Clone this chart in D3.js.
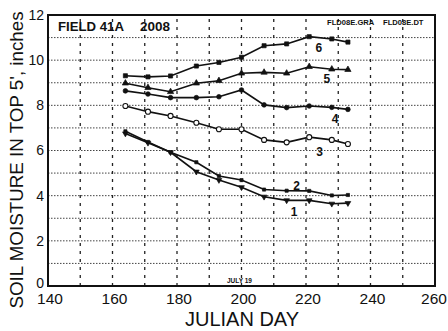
<!DOCTYPE html>
<html>
<head>
<meta charset="utf-8">
<script src="https://cdn.jsdelivr.net/npm/d3@7"></script>
<style>
  body { margin: 0; background: #fff; }
  svg { display: block; font-family: "Liberation Sans", Arial, sans-serif; }
</style>
</head>
<body>
<div id="chart"></div>
<script>
// julian days of the readings
const days = [164, 171, 178, 186, 193, 200, 207, 214, 221, 228, 233];

// soil moisture in top 5', inches
const tube1 = [6.75, 6.34, 5.92, 5.06, 4.69, 4.37, 3.95, 3.79, 3.79, 3.64, 3.67];
const tube2 = [6.85, 6.38, 5.92, 5.48, 4.87, 4.69, 4.27, 4.22, 4.21, 4.01, 4.03];
const tube3 = [7.97, 7.72, 7.53, 7.23, 6.94, 6.94, 6.47, 6.36, 6.59, 6.47, 6.29];
const tube4 = [8.64, 8.50, 8.34, 8.34, 8.38, 8.68, 8.02, 7.90, 7.97, 7.91, 7.82];
const tube5 = [8.98, 8.78, 8.60, 8.98, 9.09, 9.42, 9.46, 9.42, 9.71, 9.60, 9.58];
const tube6 = [9.31, 9.26, 9.30, 9.74, 9.90, 10.13, 10.64, 10.72, 11.04, 10.94, 10.80];

const seriesNames = ["1", "2", "3", "4", "5", "6"];
// where the curve numbers sit, [day, inches]
const labelPos = [[216.3, 3.29], [217.1, 4.44], [224.2, 5.95], [229, 7.4], [226.5, 9.17], [224, 10.55]];

const xTicks = [140, 160, 180, 200, 220, 240, 260];
const yTicks = [0, 2, 4, 6, 8, 10, 12];
const xGrid = [150, 160, 170, 180, 190, 200, 210, 220, 230, 240, 250];
const yGrid = [1, 2, 3, 4, 5, 6, 7, 8, 9, 10, 11];

const width = 448, height = 331;

const x = d3.scaleLinear().domain([140, 260]).range([48, 435]);
const y = d3.scaleLinear().domain([0, 12]).range([286, 15]);

const svg = d3.select("#chart").append("svg")
  .attr("width", width)
  .attr("height", height);

// grid
svg.append("g")
  .selectAll("line")
  .data(yGrid)
  .join("line")
  .attr("x1", x(140)).attr("x2", x(260))
  .attr("y1", d => y(d)).attr("y2", d => y(d))
  .attr("stroke", "#444")
  .attr("stroke-width", 1)
  .attr("stroke-dasharray", "1.5,1.5");

svg.append("g")
  .selectAll("line")
  .data(xGrid)
  .join("line")
  .attr("x1", d => x(d)).attr("x2", d => x(d))
  .attr("y1", y(0)).attr("y2", y(12))
  .attr("stroke", "#222")
  .attr("stroke-width", 1.3)
  .attr("stroke-dasharray", "3,5");

// frame
svg.append("rect")
  .attr("x", x(140)).attr("y", y(12))
  .attr("width", x(260) - x(140))
  .attr("height", y(0) - y(12))
  .attr("fill", "none")
  .attr("stroke", "#111")
  .attr("stroke-width", 2);

// tick labels
svg.append("g")
  .selectAll("text")
  .data(xTicks)
  .join("text")
  .attr("x", d => d === 260 ? x(d) - 1 : x(d) + 2)
  .attr("y", 304)
  .attr("text-anchor", "middle")
  .attr("font-size", 15.5)
  .attr("fill", "#111")
  .text(d => d);

svg.append("g")
  .selectAll("text")
  .data(yTicks)
  .join("text")
  .attr("x", 44)
  .attr("y", d => d === 0 ? y(d) - 3 : y(d))
  .attr("dy", "0.35em")
  .attr("text-anchor", "end")
  .attr("font-size", 14)
  .attr("fill", "#111")
  .text(d => d);

// axis titles
svg.append("text")
  .attr("x", 242).attr("y", 326)
  .attr("text-anchor", "middle")
  .attr("font-size", 20)
  .attr("fill", "#111")
  .text("JULIAN DAY");

svg.append("text")
  .attr("transform", "translate(23,160) rotate(-90)")
  .attr("text-anchor", "middle")
  .attr("font-size", 18.8)
  .attr("fill", "#111")
  .text("SOIL MOISTURE IN TOP 5', inches");

// annotations
svg.append("text")
  .attr("x", 58).attr("y", 31)
  .attr("font-size", 13.2).attr("font-weight", "bold").attr("fill", "#111")
  .text("FIELD 41A");
svg.append("text")
  .attr("x", 140).attr("y", 31)
  .attr("font-size", 13.5).attr("font-weight", "bold").attr("fill", "#111")
  .text("2008");
svg.append("text")
  .attr("x", 327).attr("y", 25)
  .attr("font-size", 7.6).attr("font-weight", "bold").attr("fill", "#111")
  .text("FLD08E.GRA");
svg.append("text")
  .attr("x", 383).attr("y", 25)
  .attr("font-size", 7.6).attr("font-weight", "bold").attr("fill", "#111")
  .text("FLD08E.DT");
svg.append("text")
  .attr("x", 227).attr("y", 283)
  .attr("font-size", 6.5).attr("font-weight", "bold").attr("fill", "#111")
  .text("JULY 19");

// series
const allSeries = [tube1, tube2, tube3, tube4, tube5, tube6];
const symbols = [d3.symbolTriangle, d3.symbolSquare, d3.symbolCircle, d3.symbolCircle, d3.symbolTriangle, d3.symbolSquare];
const symSize = [14, 10, 20, 17, 17, 17];
const hollow = [false, false, true, false, false, false];
const flip = [true, false, false, false, false, false];

const line = d3.line()
  .x((d, i) => x(days[i]))
  .y(d => y(d));

allSeries.forEach((vals, s) => {
  const g = svg.append("g");
  g.append("path")
    .datum(vals)
    .attr("fill", "none")
    .attr("stroke", "#111")
    .attr("stroke-width", 1.6)
    .attr("d", line);

  g.selectAll("path.pt")
    .data(vals)
    .join("path")
    .attr("class", "pt")
    .attr("transform", (d, i) => `translate(${x(days[i])},${y(d)})${flip[s] ? " rotate(180)" : ""}`)
    .attr("d", d3.symbol().type(symbols[s]).size(symSize[s]))
    .attr("fill", hollow[s] ? "#fff" : "#111")
    .attr("stroke", "#111")
    .attr("stroke-width", hollow[s] ? 1.1 : 0.7);

  g.append("text")
    .attr("x", x(labelPos[s][0]))
    .attr("y", y(labelPos[s][1]))
    .attr("dy", "0.35em")
    .attr("text-anchor", "middle")
    .attr("font-size", 12)
    .attr("font-weight", "bold")
    .attr("fill", "#111")
    .text(seriesNames[s]);
});
</script>
</body>
</html>
